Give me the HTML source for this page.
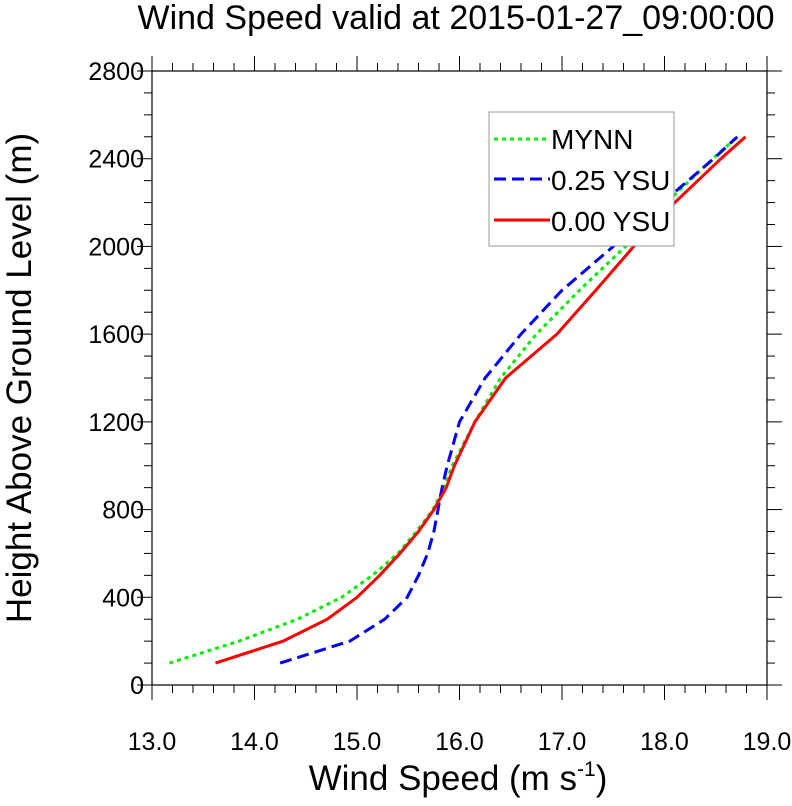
<!DOCTYPE html>
<html><head><meta charset="utf-8"><style>
body{margin:0;background:#fff;}
svg text{font-family:"Liberation Sans",Arial,sans-serif;fill:#000;}
</style></head><body>
<svg id="chart" width="792" height="801" xmlns="http://www.w3.org/2000/svg">
<text x="456" y="29" font-size="34" text-anchor="middle">Wind Speed valid at 2015-01-27_09:00:00</text>
<g id="axes"></g>
<g id="series"></g>
<text transform="translate(31,378) rotate(-90)" font-size="35" text-anchor="middle">Height Above Ground Level (m)</text>
<text x="458" y="790" font-size="35" text-anchor="middle">Wind Speed (m s<tspan dy="-14" font-size="21">-1</tspan><tspan dy="14">)</tspan></text>
<g>
<rect x="489" y="112" width="185" height="134" fill="#fff" stroke="#999" stroke-width="1"/>
<line x1="494" y1="139" x2="550" y2="139" stroke="#00ee00" stroke-width="3" stroke-dasharray="4,4"/>
<text x="551" y="149" font-size="28">MYNN</text>
<line x1="494" y1="179" x2="550" y2="179" stroke="#0000ff" stroke-width="3" stroke-dasharray="12,6"/>
<text x="551" y="190" font-size="28">0.25 YSU</text>
<line x1="494" y1="220" x2="550" y2="220" stroke="#ff0000" stroke-width="3"/>
<text x="551" y="231" font-size="28">0.00 YSU</text>
</g>
</svg>
<script>
const heights=[100,200,300,400,500,600,700,800,900,1000,1200,1400,1600,1800,2000,2200,2400,2500];
const mynn=[13.17,13.85,14.42,14.85,15.15,15.4,15.58,15.74,15.85,15.93,16.15,16.4,16.75,17.17,17.62,18.02,18.47,18.71];
const ysu025=[14.25,14.93,15.27,15.49,15.6,15.69,15.75,15.79,15.83,15.88,16.0,16.25,16.6,17.0,17.5,17.98,18.48,18.71];
const ysu000=[13.62,14.28,14.71,15.0,15.22,15.42,15.6,15.75,15.87,15.95,16.15,16.45,16.95,17.33,17.7,18.1,18.55,18.79];
const xTicks=["13.0","14.0","15.0","16.0","17.0","18.0","19.0"];
const yTicks=["0","400","800","1200","1600","2000","2400","2800"];
const X0=152,X1=767,Y0=685,Y1=71;
const sx=v=>X0+(v-13)/(19-13)*(X1-X0);
const sy=v=>Y0-(v-0)/2800*(Y0-Y1);
const NS="http://www.w3.org/2000/svg";
const axes=document.getElementById('axes');
function mk(tag,attrs,parent){const e=document.createElementNS(NS,tag);for(const k in attrs)e.setAttribute(k,attrs[k]);parent.appendChild(e);return e;}
const frame=mk('rect',{x:X0,y:Y1,width:X1-X0,height:Y0-Y1,fill:'none',stroke:'#000','stroke-width':1.2},axes);


for(let i=0;i<=30;i++){
  const v=13+i*0.2, x=sx(v), maj=i%5===0, L=maj?15:8;
  const t1=mk('line',{x1:x,y1:Y0,x2:x,y2:Y0+L,stroke:'#000','stroke-width':1},axes);
  
  
  const t2=mk('line',{x1:x,y1:Y1,x2:x,y2:Y1-L,stroke:'#000','stroke-width':1},axes);
  
  
}
xTicks.forEach(s=>{
  const t=mk('text',{x:sx(parseFloat(s)),y:Y0+65,'font-size':25,'text-anchor':'middle'},axes);t.textContent=s;
  
  
});
for(let i=0;i<=28;i++){
  const v=i*100, y=sy(v), maj=i%4===0, L=maj?15:8;
  const t1=mk('line',{x1:X0,y1:y,x2:X0-L,y2:y,stroke:'#000','stroke-width':1},axes);
  
  
  const t2=mk('line',{x1:X1,y1:y,x2:X1+L,y2:y,stroke:'#000','stroke-width':1},axes);
  
  
}
yTicks.forEach(s=>{
  const t=mk('text',{x:X0-8,y:sy(parseFloat(s))+9,'font-size':25,'text-anchor':'end'},axes);t.textContent=s;
  
  
});
const ser=document.getElementById('series');
function line(vals,color,dash,name){
  const d=vals.map((v,i)=>(i?'L':'M')+sx(v).toFixed(1)+','+sy(heights[i]).toFixed(1)).join(' ');
  const p=mk('path',{d:d,fill:'none',stroke:color,'stroke-width':3,'stroke-dasharray':dash,'stroke-linejoin':'round'},ser);
  
  
}
line(mynn,'#00ee00','4,4','mynn-line');
line(ysu025,'#0000ff','12,6','ysu-025-line');
line(ysu000,'#ff0000','none','ysu-000-line');
</script>
</body></html>
